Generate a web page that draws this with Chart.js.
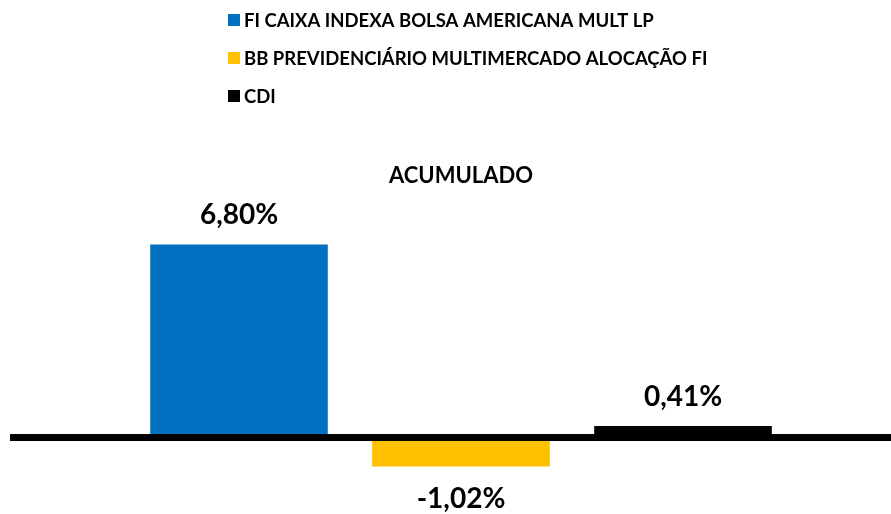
<!DOCTYPE html>
<html>
<head>
<meta charset="utf-8">
<script src="https://cdn.jsdelivr.net/npm/chart.js@4.4.1/dist/chart.umd.min.js"></script>
<style>
    html, body { margin: 0; padding: 0; background: #fff; }
    #wrap { width: 891px; height: 514px; position: relative; }
</style>
</head>
<body>
<div id="wrap"><canvas id="chart"></canvas></div>
<script>
// --- Datos ---
const categories = ['ACUMULADO'];
const seriesNames = [
    'FI CAIXA INDEXA BOLSA AMERICANA MULT LP',
    'BB PREVIDENCIÁRIO MULTIMERCADO ALOCAÇÃO FI',
    'CDI'
];
const seriesValues = [6.80, -1.02, 0.41];
const seriesColors = ['#0070C0', '#FFC000', '#000000'];

const FONT = 'Lato, "Open Sans", sans-serif';

function fmtPct(v) {
    return v.toFixed(2).replace('.', ',') + '%';
}

// Leyenda vertical arriba a la izquierda
const legendColumn = {
    id: 'legendColumn',
    afterDraw(chart) {
        const ctx = chart.ctx;
        ctx.save();
        ctx.font = 'bold 18.5px ' + FONT;
        ctx.textBaseline = 'middle';
        ctx.textAlign = 'left';
        chart.data.datasets.forEach((ds, i) => {
            const y = 20 + i * 38;
            ctx.fillStyle = ds.backgroundColor;
            ctx.fillRect(228, y - 6, 12, 12);
            ctx.fillStyle = '#000';
            ctx.fillText(ds.label, 244, y + 1);
        });
        ctx.restore();
    }
};

// Línea de cero gruesa + etiquetas de valor
const zeroAndLabels = {
    id: 'zeroAndLabels',
    afterDatasetsDraw(chart) {
        const ctx = chart.ctx;
        const y0 = chart.scales.y.getPixelForValue(0);
        ctx.save();
        ctx.fillStyle = '#000';
        ctx.fillRect(10, y0 - 3.5, chart.width - 10, 7);

        ctx.font = 'bold 28px ' + FONT;
        ctx.textAlign = 'center';
        ctx.textBaseline = 'alphabetic';
        chart.data.datasets.forEach((ds, i) => {
            chart.getDatasetMeta(i).data.forEach((bar, j) => {
                const v = ds.data[j];
                if (v >= 0) {
                    ctx.fillText(fmtPct(v), bar.x, bar.y - 20);
                } else {
                    ctx.fillText(fmtPct(v), bar.x, bar.y + 42);
                }
            });
        });
        ctx.restore();
    }
};

const datasets = seriesNames.map((name, i) => ({
    label: name,
    data: [seriesValues[i]],
    backgroundColor: seriesColors[i],
    borderWidth: 0,
    categoryPercentage: 1,
    barPercentage: 0.8
}));

new Chart(document.getElementById('chart'), {
    type: 'bar',
    data: { labels: categories, datasets: datasets },
    options: {
        responsive: true,
        maintainAspectRatio: false,
        animation: false,
        layout: { padding: { top: 150, bottom: 5.5, left: 128, right: 97 } },
        scales: {
            x: { display: false },
            y: { display: false, min: -2.5, max: 8 }
        },
        plugins: {
            legend: { display: false },
            tooltip: { enabled: false },
            title: {
                display: true,
                text: categories[0],
                fullSize: false,
                color: '#000',
                font: { family: FONT, size: 22, weight: 'bold' },
                padding: { top: 13, bottom: 21 }
            }
        }
    },
    plugins: [legendColumn, zeroAndLabels]
});
</script>
</body>
</html>
